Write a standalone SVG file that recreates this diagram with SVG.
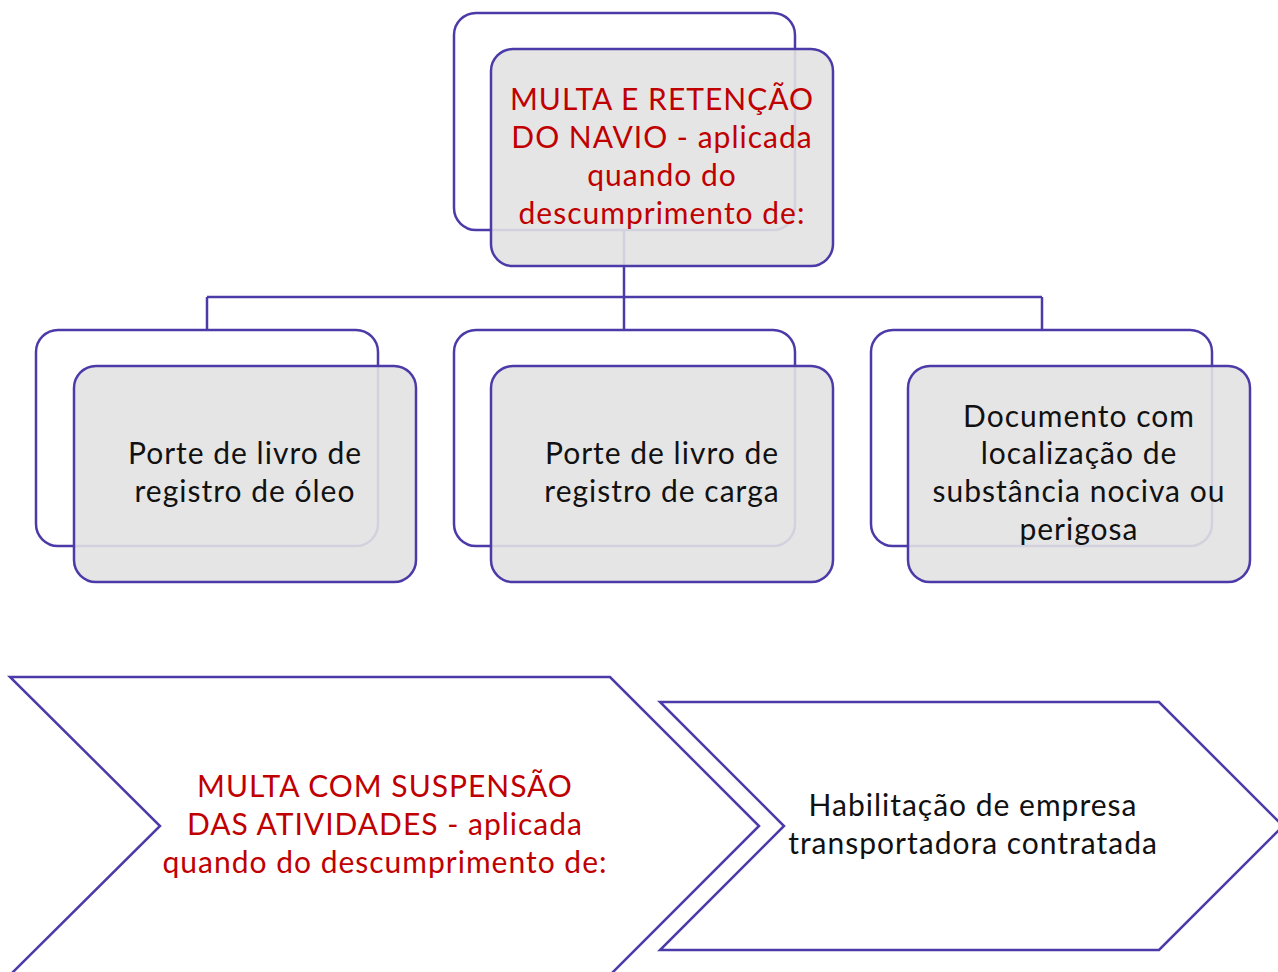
<svg xmlns="http://www.w3.org/2000/svg" width="1278" height="972" viewBox="0 0 1278 972">
<style>
.back{fill:#ffffff;fill-opacity:0.9;stroke:#4b3ba8;stroke-width:2.5}
.front{fill:#e2e2e2;fill-opacity:0.9;stroke:#4b3ba8;stroke-width:2.5}
.conn{fill:none;stroke:#4b3ba8;stroke-width:2.5}
.chev{fill:#ffffff;stroke:#4b3ba8;stroke-width:2.5;stroke-linejoin:miter}
.t{font-family:Lato,"Noto Sans",sans-serif;font-size:30px;letter-spacing:1px;text-anchor:middle}
.red{fill:#c00000}
.blk{fill:#111111}
</style>
<rect width="1278" height="972" fill="#ffffff"/>
<g id="connectors">
<path class="conn" d="M624,230 V297 M207,297 H1042 M207,297 V330 M624,297 V330 M1042,297 V330"/>
</g>
<g id="node-top">
<rect class="back" x="454" y="13" width="341" height="217" rx="22"/>
<rect class="front" x="491" y="49" width="342" height="217" rx="22"/>
<text class="t red" x="662"><tspan x="662" y="110">MULTA E RETENÇÃO</tspan><tspan x="662" y="148">DO NAVIO - aplicada</tspan><tspan x="662" y="186">quando do</tspan><tspan x="662" y="224">descumprimento de:</tspan></text>
</g>
<g id="node-oleo">
<rect class="back" x="36" y="330" width="342" height="216" rx="22"/>
<rect class="front" x="74" y="366" width="342" height="216" rx="22"/>
<text class="t blk"><tspan x="245" y="464">Porte de livro de</tspan><tspan x="245" y="502">registro de óleo</tspan></text>
</g>
<g id="node-carga">
<rect class="back" x="454" y="330" width="341" height="216" rx="22"/>
<rect class="front" x="491" y="366" width="342" height="216" rx="22"/>
<text class="t blk"><tspan x="662" y="464">Porte de livro de</tspan><tspan x="662" y="502">registro de carga</tspan></text>
</g>
<g id="node-doc">
<rect class="back" x="871" y="330" width="341" height="216" rx="22"/>
<rect class="front" x="908" y="366" width="342" height="216" rx="22"/>
<text class="t blk"><tspan x="1079" y="427">Documento com</tspan><tspan x="1079" y="464">localização de</tspan><tspan x="1079" y="502">substância nociva ou</tspan><tspan x="1079" y="540">perigosa</tspan></text>
</g>
<g id="chevron-suspensao">
<polygon class="chev" points="10,677 610,677 759,826 610,975 10,975 160,826"/>
<text class="t red"><tspan x="385" y="797">MULTA COM SUSPENSÃO</tspan><tspan x="385" y="835">DAS ATIVIDADES - aplicada</tspan><tspan x="385" y="873">quando do descumprimento de:</tspan></text>
</g>
<g id="chevron-habilitacao">
<polygon class="chev" points="660,702 1159,702 1283,826 1159,950 660,950 784,826"/>
<text class="t blk"><tspan x="973" y="816">Habilitação de empresa</tspan><tspan x="973" y="854">transportadora contratada</tspan></text>
</g>
</svg>
